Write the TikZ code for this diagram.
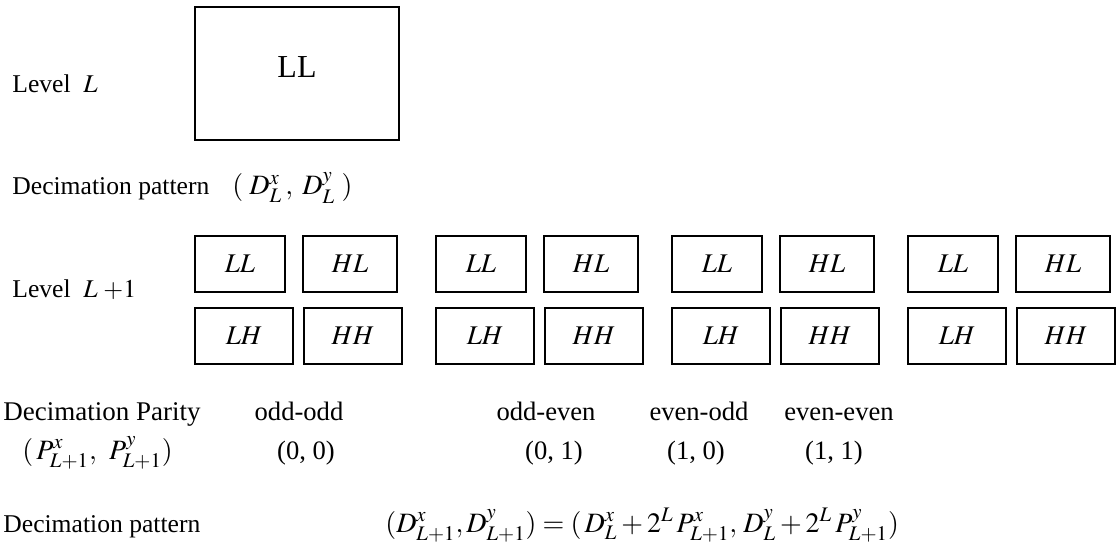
\documentclass[tikz,border=0pt]{standalone}
\usepackage{mathptmx}
\usepackage{fontspec}
\setmainfont{Liberation Serif}
\usetikzlibrary{positioning}
\tikzset{
  every node/.style = {font=\fontsize{12.8}{15}\selectfont, inner sep=0pt},
  band/.style       = {draw, line width=0.9pt, minimum height=28pt,
                       font=\fontsize{13.5}{16}\selectfont},
  bandtop/.style    = {band, minimum width=45pt},
  bandhl/.style     = {band, minimum width=47pt},
  bandlow/.style    = {band, minimum width=49pt},
  lbl/.style        = {anchor=base west},
  parlbl/.style     = {anchor=base, font=\fontsize{13.3}{16}\selectfont},
  eqn/.style        = {anchor=base west, font=\fontsize{14}{16}\selectfont},
}

\begin{document}
\begin{tikzpicture}[x=0.5pt, y=-0.5pt]
  \useasboundingbox (0,0) rectangle (1117,549);
  % level L
  \node[lbl] (lvl) at (12,93) {Level\enspace$L$};
  \node[draw, line width=0.9pt, minimum width=102pt, minimum height=66.5pt,
        text depth=6pt, font=\fontsize{16}{18}\selectfont] (top) at (297,73.5) {LL};
  \node[lbl] (dec) at (12,195) {Decimation pattern};
  \node[eqn] (decv) at (232,195) {$(\;D^x_L\,,\;D^y_L\;)$};
  % level L+1
  \node[lbl] (lvlb) at (12,298) {Level\enspace$L\;{+}1$};
  \foreach \s/\i in {195/1,436/2,672/3,908/4} {
    \node[bandtop] (ll\i) at (\s+45,264) {$LL$};
    \node[bandhl]  (hl\i) at (\s+155,264) {$HL$};
    \node[bandlow] (lh\i) at (\s+49,336) {$LH$};
    \node[bandlow] (hh\i) at (\s+158,336) {$HH$};
  }
  % parities
  \node[lbl, font=\fontsize{13.5}{16}\selectfont] (par) at (3,421) {Decimation Parity};
  \node[eqn] (parv) at (22,459) {$(\,P^x_{L+1},\;\, P^y_{L+1})$};
  \foreach \x/\y/\t/\v/\i in {299/306/odd-odd/{(0, 0)}/1, 546/554/odd-even/{(0, 1)}/2,
                              699/696/even-odd/{(1, 0)}/3, 839/834/even-even/{(1, 1)}/4} {
    \node[parlbl] (pn\i) at (\x,421) {\t};
    \node[parlbl] (pv\i) at (\y,459) {\v};
  }
  % next pattern
  \node[lbl] (decb) at (3,532) {Decimation pattern};
  \node[eqn] (decbv) at (385,532)
    {$(D^x_{L+1}, D^y_{L+1}) = (\,D^x_L+2^L\,P^x_{L+1},\, D^y_L+2^L\,P^y_{L+1})$};
\end{tikzpicture}
\end{document}
